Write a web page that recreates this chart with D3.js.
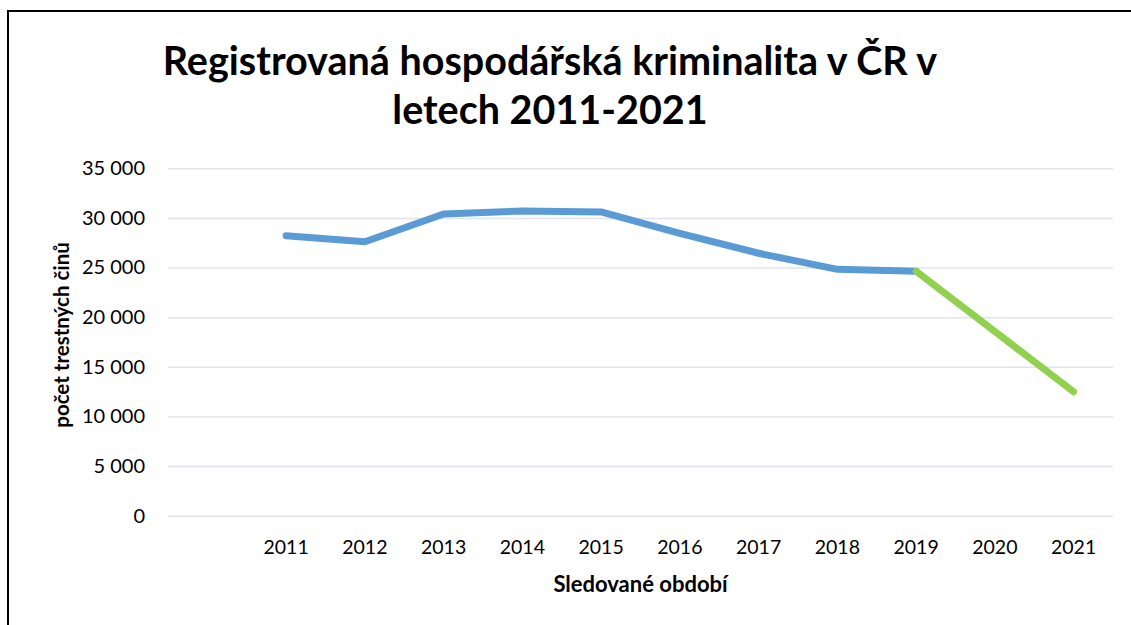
<!DOCTYPE html>
<html>
<head>
<meta charset="utf-8">
<title>Registrovaná hospodářská kriminalita</title>
<script src="https://cdn.jsdelivr.net/npm/d3@7"></script>
<style>
body { margin: 0; background: #fff; }
svg { display: block; font-family: Lato, "Open Sans", sans-serif; }
.grid line { stroke: #e1e4e9; stroke-width: 1.5; }
.grid text, .xaxis text { fill: #000; }
</style>
</head>
<body>
<script>
// data
const categories = ["", "2011", "2012", "2013", "2014", "2015", "2016", "2017", "2018", "2019", "2020", "2021"]
const crimes = [null, 28200, 27600, 30400, 30700, 30600, 28450, 26440, 24820, 24620, 18550, 12490]
const blueYears = ["2011", "2012", "2013", "2014", "2015", "2016", "2017", "2018", "2019"]
const greenYears = ["2019", "2020", "2021"]
const yTicks = [0, 5000, 10000, 15000, 20000, 25000, 30000, 35000]
const titleLines = ["Registrovaná hospodářská kriminalita v ČR v", "letech 2011-2021"]

const W = 1131, H = 625
const plot = { left: 168, right: 1113, top: 168.3, bottom: 515.7 }

const svg = d3.select('body').append('svg')
  .attr('width', W)
  .attr('height', H)

// outer frame
svg.append('rect')
  .attr('x', 8).attr('y', 11)
  .attr('width', 1200).attr('height', 700)
  .attr('fill', 'none')
  .attr('stroke', '#000')
  .attr('stroke-width', 2)

const x = d3.scaleBand().domain(categories).range([plot.left, plot.right])
const y = d3.scaleLinear().domain([0, 35000]).range([plot.bottom, plot.top])
const cx = c => x(c) + x.bandwidth() / 2

const cz = d3.formatLocale({ decimal: ",", thousands: " ", grouping: [3], currency: ["", " Kč"] })

// y grid + labels
svg.append('g')
  .attr('class', 'grid')
  .attr('transform', `translate(${plot.left},0)`)
  .call(d3.axisLeft(y).tickValues(yTicks).tickFormat(cz.format(',')).tickSize(-(plot.right - plot.left)).tickPadding(23))
  .call(g => g.select('.domain').remove())
  .selectAll('text').attr('font-family', 'Lato').attr('font-size', 20)

// x labels
svg.append('g')
  .attr('class', 'xaxis')
  .attr('transform', `translate(0,${plot.bottom})`)
  .call(d3.axisBottom(x).tickSize(0).tickPadding(24))
  .call(g => g.select('.domain').remove())
  .selectAll('text').attr('font-family', 'Lato').attr('font-size', 19.5)

// lines
const value = yr => crimes[categories.indexOf(yr)]
const line = d3.line().x(d => cx(d)).y(d => y(value(d)))

svg.append('path')
  .datum(blueYears)
  .attr('d', line)
  .attr('fill', 'none')
  .attr('stroke', '#5b9bd5')
  .attr('stroke-width', 7)
  .attr('stroke-linecap', 'round')
  .attr('stroke-linejoin', 'round')

svg.append('path')
  .datum(greenYears)
  .attr('d', line)
  .attr('fill', 'none')
  .attr('stroke', '#92d050')
  .attr('stroke-width', 7)
  .attr('stroke-linecap', 'round')
  .attr('stroke-linejoin', 'round')

// title
const title = svg.append('text')
  .attr('text-anchor', 'middle')
  .attr('font-weight', 700)
  .attr('font-size', 39.5)
  .attr('fill', '#000')
title.selectAll('tspan')
  .data(titleLines)
  .join('tspan')
    .attr('x', 550)
    .attr('y', (d, i) => 75 + i * 49)
    .text(d => d)

// axis titles
svg.append('text')
  .attr('x', (plot.left + plot.right) / 2)
  .attr('y', 592)
  .attr('text-anchor', 'middle')
  .attr('font-weight', 700)
  .attr('font-size', 22)
  .text('Sledované období')

svg.append('text')
  .attr('transform', `translate(69,335) rotate(-90)`)
  .attr('text-anchor', 'middle')
  .attr('font-weight', 700)
  .attr('font-size', 20.5)
  .text('počet trestných činů')
</script>
</body>
</html>
